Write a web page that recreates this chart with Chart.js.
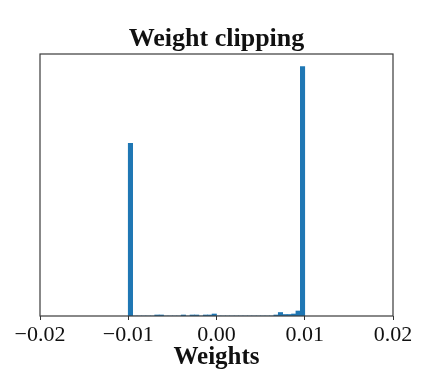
<!DOCTYPE html>
<html>
<head>
<meta charset="utf-8">
<script src="https://cdn.jsdelivr.net/npm/chart.js@4"></script>
<style>
  html, body { margin: 0; padding: 0; background: #fff; }
  #wrap { width: 437px; height: 377px; }
</style>
</head>
<body>
<div id="wrap"><canvas id="histo"></canvas></div>
<script>
// histogram of clipped weights: 40 bins from -0.01 to 0.01
const binStart = -0.01;
const binWidth = 0.0005;
const counts = [
  692, 0, 0, 0, 0, 0, 4, 4, 0, 0,
  0, 0, 4, 0, 4, 4, 0, 4, 4, 8,
  0, 0, 0, 0, 0, 0, 0, 0, 0, 0,
  0, 0, 0, 4, 14, 6, 6, 8, 20, 1000
];
const xTicks = [-0.02, -0.01, 0.00, 0.01, 0.02];
const yMax = 1050;

const points = counts.map((c, i) => ({ x: binStart + binWidth * (i + 0.5), y: c }));

const frame = {
    id: 'frame',
    afterDraw(chart) {
        const a = chart.chartArea;
        const ctx = chart.ctx;
        ctx.save();
        ctx.strokeStyle = '#3a3a3a';
        ctx.lineWidth = 1.2;
        ctx.strokeRect(a.left, a.top, a.right - a.left, a.bottom - a.top);
        ctx.restore();
    }
};

const ctx = document.getElementById('histo').getContext('2d');
new Chart(ctx, {
    type: 'bar',
    data: {
        datasets: [{
            data: points,
            backgroundColor: '#1f77b4',
            borderWidth: 0,
            barPercentage: 1,
            categoryPercentage: 1
        }]
    },
    options: {
        responsive: true,
        maintainAspectRatio: false,
        animation: false,
        layout: { padding: { left: 40, right: 44, top: 0, bottom: 0 } },
        scales: {
            x: {
                type: 'linear',
                min: -0.02,
                max: 0.02,
                offset: false,
                afterBuildTicks: s => { s.ticks = xTicks.map(v => ({ value: v })); },
                afterFit: s => { s.height = 61; },
                grid: {
                    offset: false,
                    drawOnChartArea: false,
                    tickLength: 4,
                    tickColor: '#333',
                    color: '#333'
                },
                border: { display: false },
                ticks: {
                    autoSkip: false,
                    maxRotation: 0,
                    padding: 4,
                    color: '#111',
                    font: { family: 'Liberation Serif', size: 22, lineHeight: 1 },
                    callback: v => (v < -1e-9 ? '\u2212' : '') + Math.abs(v).toFixed(2)
                },
                title: {
                    display: true,
                    text: 'Weights',
                    color: '#111',
                    padding: { top: 0, bottom: 7 },
                    font: { family: 'Liberation Serif', size: 25, weight: 'bold', lineHeight: 1 }
                }
            },
            y: {
                display: false,
                min: 0,
                max: yMax
            }
        },
        plugins: {
            legend: { display: false },
            tooltip: { enabled: false },
            title: {
                display: true,
                text: 'Weight clipping',
                color: '#111',
                padding: { top: 26, bottom: 2 },
                font: { family: 'Liberation Serif', size: 26, weight: 'bold', lineHeight: 1 }
            }
        }
    },
    plugins: [frame]
});
</script>
</body>
</html>
